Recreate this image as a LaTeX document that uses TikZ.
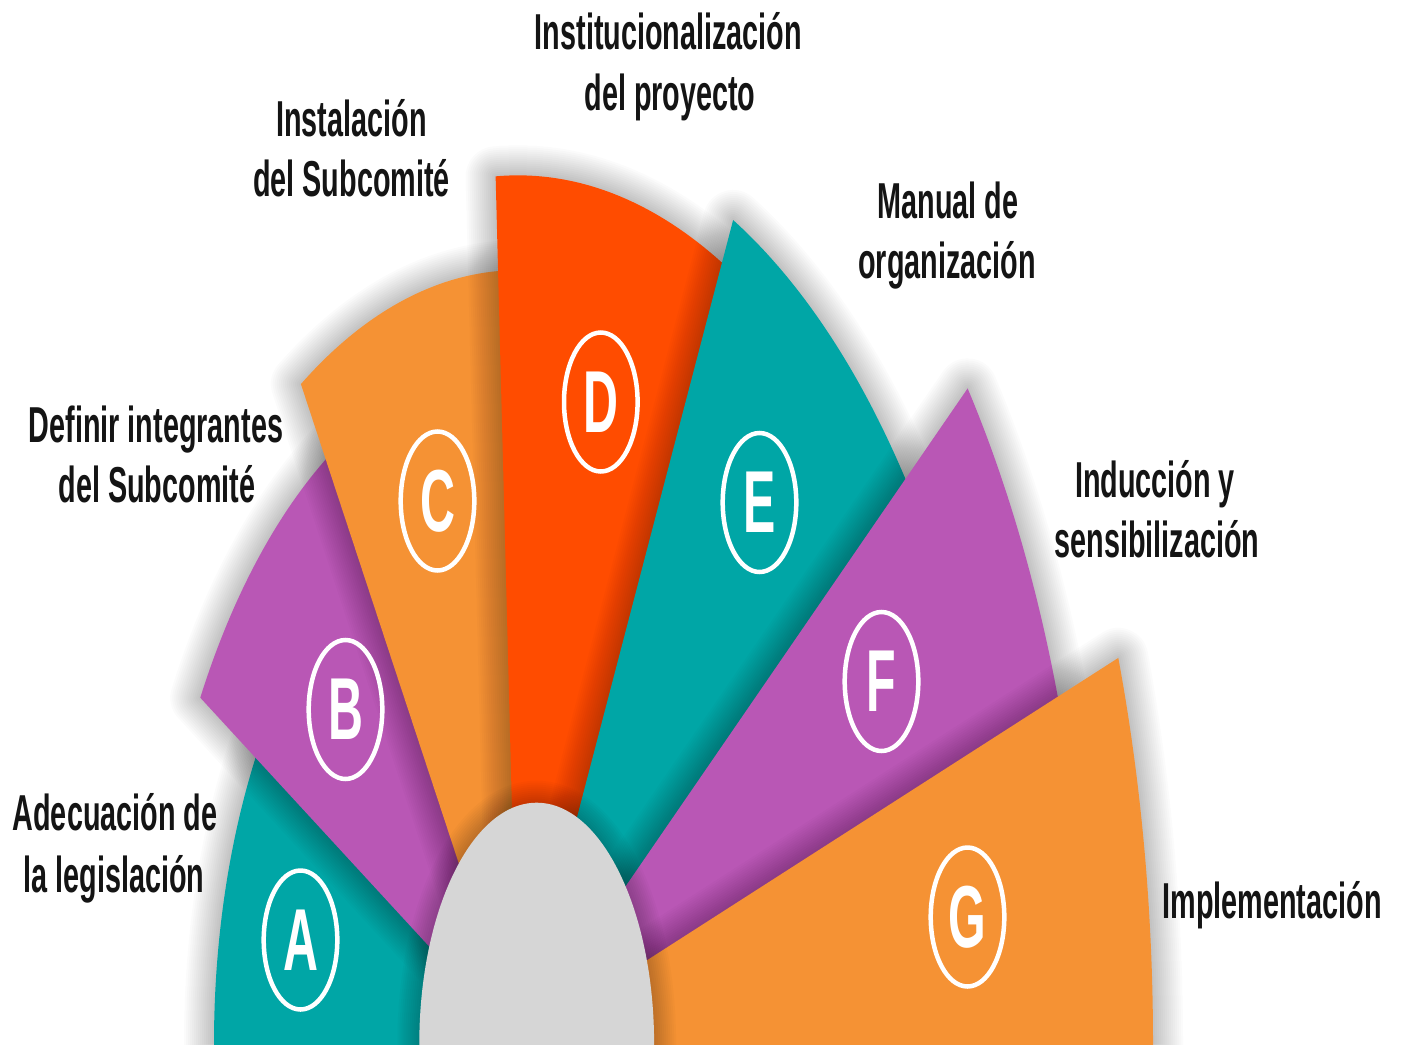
\documentclass[tikz,border=0pt]{standalone}
\usepackage{fontspec}
\setmainfont{Liberation Sans}
\definecolor{tealc}{RGB}{0,166,166}
\definecolor{purpc}{RGB}{185,87,181}
\definecolor{orngc}{RGB}{245,146,52}
\definecolor{redoc}{RGB}{255,76,0}
\definecolor{grayc}{RGB}{214,214,214}
\newcommand\fansector[4]{%
  \foreach \w in {4,8,...,60}{%
    \draw[black, opacity=0.016, line width=\w pt, line join=round]
      (0,0) -- (#1:#3) arc[start angle=#1, end angle=#2, radius=#3] -- cycle;}
  \fill[#4] (0,0) -- (#1:#3) arc[start angle=#1, end angle=#2, radius=#3] -- cycle;}
\begin{document}
\begin{tikzpicture}[x=1pt,y=-1pt,
  lbl/.style={font=\fontsize{50.5}{60}\selectfont\bfseries, xscale=0.57, anchor=base, inner sep=0pt, text=black!92},
  letter/.style={font=\fontsize{88}{88}\selectfont\bfseries, xscale=0.55, text=white, inner sep=0pt},
  ring/.style={draw=white, line width=4.5pt}]
\useasboundingbox (0,0) rectangle (1402,1044);
\fill[white] (0,0) rectangle (1402,1044);
\begin{scope}
  \clip (0,0) rectangle (1402,1044);
  \begin{scope}[shift={(518,1043)}, x=1pt, y=1.86pt]
    \fansector{181}{140}{304}{tealc}
    \fansector{149.7}{111}{368}{purpc}
    \fansector{121.5}{82}{415.5}{orngc}
    \fansector{92.75}{54}{466.5}{redoc}
    \fansector{64.07}{28}{492}{tealc}
    \fansector{38.05}{9}{571}{purpc}
    \fansector{19.03}{-2}{635}{orngc}
  \end{scope}
  \foreach \w in {4,8,...,44}{%
    \draw[black, opacity=0.018, line width=\w pt] (536.7,1044) ellipse[x radius=117.4, y radius=241.3];}
  \fill[grayc] (536.7,1044) ellipse[x radius=117.4, y radius=241.3];
\end{scope}
% letters in rings
\node[letter] (la) at (300.5,940) {A};
\draw[ring] (la.center) ellipse[x radius=36.8, y radius=69.5];
\node[letter] (lb) at (345.5,709.5) {B};
\draw[ring] (lb.center) ellipse[x radius=36.8, y radius=69.5];
\node[letter] (lc) at (437.5,501) {C};
\draw[ring] (lc.center) ellipse[x radius=36.8, y radius=69.5];
\node[letter] (ld) at (600.8,402) {D};
\draw[ring] (ld.center) ellipse[x radius=36.8, y radius=69.5];
\node[letter] (le) at (759.5,502.5) {E};
\draw[ring] (le.center) ellipse[x radius=36.8, y radius=69.5];
\node[letter] (lf) at (881.5,681.5) {F};
\draw[ring] (lf.center) ellipse[x radius=36.8, y radius=69.5];
\node[letter] (lg) at (967.5,917) {G};
\draw[ring] (lg.center) ellipse[x radius=36.8, y radius=69.5];
% labels
\node[lbl] (t1a) at (668.5,49.5) {Institucionalización};
\node[lbl] (t1b) at (670,110.5) {del proyecto};
\node[lbl] (t2a) at (351.5,136.5) {Instalación};
\node[lbl] (t2b) at (351.5,196.5) {del Subcomité};
\node[lbl] (t3a) at (948,218) {Manual de};
\node[lbl] (t3b) at (947,278) {organización};
\node[lbl] (t4a) at (156,442) {Definir integrantes};
\node[lbl] (t4b) at (157,502) {del Subcomité};
\node[lbl] (t5a) at (1155,497) {Inducción y};
\node[lbl] (t5b) at (1157,557) {sensibilización};
\node[lbl] (t6a) at (115,830) {Adecuación de};
\node[lbl] (t6b) at (114,892) {la legislación};
\node[lbl] (t7) at (1272,918) {Implementación};
\end{tikzpicture}
\end{document}
